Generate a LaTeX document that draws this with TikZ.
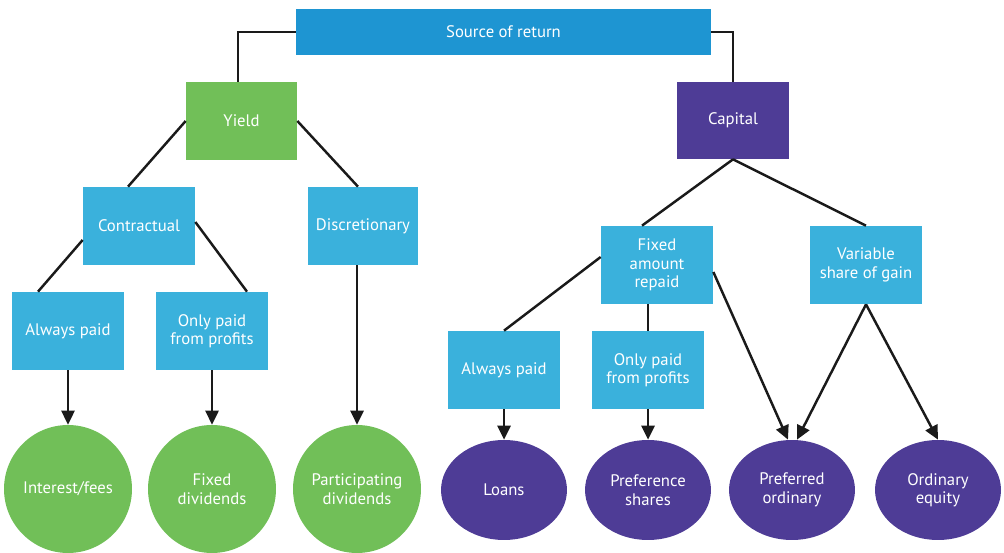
\documentclass[tikz,border=0pt]{standalone}
\usepackage{fontspec}
\setmainfont{PT Sans}
\usetikzlibrary{calc,arrows.meta,shapes.geometric}
\definecolor{topblue}{HTML}{1E95D2}
\definecolor{lblue}{HTML}{3AB1DC}
\definecolor{lgreen}{HTML}{71BF58}
\definecolor{dpurple}{HTML}{4E3C96}
\definecolor{lineblack}{HTML}{1A1A1A}
\tikzset{
  every node/.style={font=\fontsize{9.5}{10.5}\selectfont, text=white, align=center, inner sep=0pt},
  bbox/.style={rectangle, fill=lblue, minimum width=2.24cm, minimum height=1.56cm},
  gcirc/.style={circle, fill=lgreen, minimum size=2.56cm},
  pell/.style={ellipse, fill=dpurple, minimum width=2.52cm, minimum height=2.0cm},
  conn/.style={draw=lineblack, line width=1.4pt},
  arr/.style={conn, -{Triangle[length=8pt,width=7.5pt]}}
}
\begin{document}
\begin{tikzpicture}[x=0.02cm,y=-0.02cm]
\useasboundingbox (0,0) rectangle (1004,553);
% nodes
\node[rectangle, fill=topblue, minimum width=8.30cm, minimum height=0.92cm] (src) at (503.5,32) {Source of return};
\node[rectangle, fill=lgreen, minimum width=2.22cm, minimum height=1.56cm] (yield) at (241.5,121) {Yield};
\node[rectangle, fill=dpurple, minimum width=2.24cm, minimum height=1.54cm] (capital) at (733,120.5) {Capital};
\node[bbox] (contr) at (139,226) {Contractual};
\node[bbox, minimum width=2.20cm] (disc) at (363,226) {Discretionary};
\node[bbox] (alwL) at (68,331) {Always paid};
\node[bbox] (onlyL) at (212,331) {Only paid\\from profits};
\node[bbox] (fixed) at (657,265) {Fixed\\amount\\repaid};
\node[bbox] (var) at (866,265) {Variable\\share of gain};
\node[bbox] (alwR) at (504,370) {Always paid};
\node[bbox] (onlyR) at (648,370) {Only paid\\from profits};
\node[gcirc] (c1) at (68,489) {Interest/fees};
\node[gcirc] (c2) at (212,489) {Fixed\\dividends};
\node[gcirc] (c3) at (357,489) {Participating\\dividends};
\node[pell] (e1) at (504,490) {Loans};
\node[pell] (e2) at (648,490) {Preference\\shares};
\node[pell] (e3) at (792,490) {Preferred\\ordinary};
\node[pell] (e4) at (938,490) {Ordinary\\equity};
% connectors
\draw[conn] (src.west) -| ($(yield.north)+(-3.5,0)$);
\draw[conn] (src.east) -| (capital.north);
\draw[conn] (yield.west) -- ($(contr.north)+(-11,0)$);
\draw[conn] (yield.east) -- ($(disc.north)+(-5,0)$);
\draw[conn] ($(contr.west)+(0,14)$) -- ($(alwL.north)+(-30,0)$);
\draw[conn] ($(contr.east)+(0,-4)$) -- ($(onlyL.north)+(35,0)$);
\draw[arr] (alwL.south) -- (c1.north);
\draw[arr] (onlyL.south) -- (c2.north);
\draw[arr] (disc.south -| c3.north) -- (c3.north);
\draw[conn] (capital.south) -- ($(fixed.north)+(-15,0)$);
\draw[conn] (capital.south) -- (var.north);
\draw[conn] ($(fixed.west)+(0,-8)$) -- (alwR.north);
\draw[conn] (fixed.south -| onlyR.north) -- (onlyR.north);
\draw[arr] (alwR.south) -- (e1.north);
\draw[arr] (onlyR.south) -- (e2.north);
\draw[arr] ($(fixed.east)+(0,7)$) -- ($(e3.north)+(-4,0)$);
\draw[arr] (var.south) -- ($(e3.north)+(5,0)$);
\draw[arr] (var.south) -- (e4.north);
\end{tikzpicture}
\end{document}
